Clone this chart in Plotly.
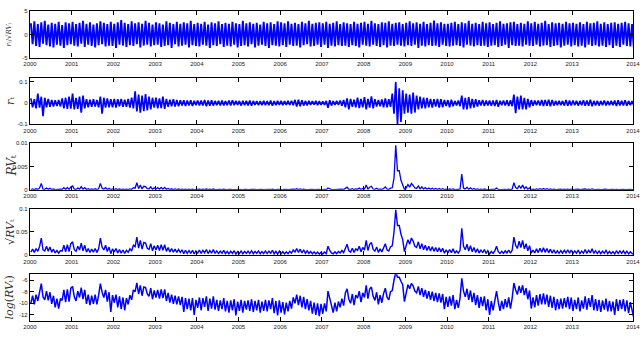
import math
import plotly.graph_objects as go

# ---------------- data (half-month samples, Jan 2000 .. Jun 2014) ----------------
z_ratio = [
    2.4,-2.1,2.8,-2.5,2.2,-2.7,2.6,-2.0,2.9,-2.3,2.1,-2.6,2.5,-2.8,2.3,-2.2,2.7,-2.4,2.0,-2.9,2.6,-2.3,2.4,-2.1,
    2.7,-2.4,2.2,-2.6,2.5,-2.0,2.9,-2.7,2.3,-2.2,2.6,-2.5,2.1,-2.8,2.4,-2.3,2.8,-2.1,2.5,-2.6,2.2,-2.4,2.7,-2.5,
    2.3,-2.9,2.6,-2.2,3.1,-2.4,2.5,-2.7,2.2,-2.3,2.8,-2.5,2.4,-2.1,2.6,-2.8,2.3,-2.4,2.9,-2.2,2.5,-2.6,2.1,-2.3,
    2.6,-2.2,2.4,-2.7,2.1,-2.5,2.8,-2.3,2.5,-2.9,2.2,-2.1,2.7,-2.6,2.3,-2.4,2.6,-2.2,2.4,-2.8,2.9,-2.3,2.2,-2.5,
    2.5,-2.6,2.3,-2.2,2.7,-2.4,2.1,-2.9,2.6,-2.3,2.4,-2.5,2.8,-2.1,2.2,-2.7,2.5,-2.4,2.3,-2.6,2.7,-2.2,2.4,-2.8,
    2.2,-2.5,2.9,-2.3,2.4,-2.6,2.6,-2.1,2.3,-2.8,2.5,-2.4,2.1,-2.2,2.7,-2.5,2.4,-2.9,2.6,-2.3,2.2,-2.4,2.8,-2.6,
    2.6,-2.3,2.4,-2.7,2.8,-2.2,2.3,-2.5,2.5,-2.4,2.2,-2.8,2.7,-2.3,2.4,-2.1,2.9,-2.6,2.3,-2.5,2.5,-2.2,2.6,-2.7,
    2.4,-2.2,2.7,-2.9,2.3,-2.4,2.5,-2.6,2.8,-2.3,2.2,-2.5,2.6,-2.4,2.4,-2.7,2.2,-2.3,2.7,-2.5,2.3,-2.8,2.5,-2.2,
    2.7,-2.4,2.3,-2.6,2.9,-2.2,2.4,-2.5,2.2,-2.7,2.6,-2.3,2.5,-2.8,2.8,-2.4,2.3,-2.5,2.5,-2.2,2.6,-2.4,2.2,-2.6,
    2.5,-2.3,2.8,-2.5,2.4,-2.2,2.6,-2.9,2.3,-2.4,2.7,-2.6,2.2,-2.3,2.5,-2.5,3.0,-2.4,2.4,-2.7,2.6,-2.2,2.3,-2.5,
    2.3,-2.6,2.5,-2.4,2.7,-2.3,2.2,-2.5,2.6,-2.8,2.4,-2.2,2.9,-2.4,2.3,-2.6,2.5,-2.3,2.2,-2.5,2.7,-2.4,2.4,-2.7,
    2.6,-2.4,2.2,-2.3,2.5,-2.7,2.8,-2.5,2.3,-2.2,2.4,-2.9,2.6,-2.3,2.7,-2.5,2.2,-2.4,2.5,-2.6,2.3,-2.2,2.8,-2.4,
    2.4,-2.5,2.7,-2.2,2.3,-2.6,2.5,-2.4,2.9,-2.3,2.2,-2.7,2.6,-2.5,2.4,-2.3,2.5,-2.8,2.3,-2.4,2.7,-2.2,2.4,-2.6,
    2.5,-2.3,2.3,-2.6,2.6,-2.4,2.2,-2.8,2.7,-2.2,2.4,-2.5,2.5,-2.3,2.8,-2.6,2.3,-2.4,2.6,-2.7,2.2,-2.3,2.5,-2.9,
    2.6,-2.4,2.3,-2.7,2.5,-2.2,2.7,-2.5,2.4,-2.6,2.2,-2.8,
]

returns = [
    0.022,-0.02,0.018,-0.025,0.045,-0.022,0.03,-0.062,0.025,-0.02,0.02,-0.018,0.015,-0.016,0.013,-0.014,0.014,-0.016,0.022,-0.025,0.025,-0.028,0.03,-0.026,
    0.045,-0.03,0.025,-0.028,0.03,-0.045,0.035,-0.025,0.018,-0.02,0.016,-0.018,0.018,-0.017,0.015,-0.02,0.03,-0.05,0.025,-0.022,0.022,-0.02,0.018,-0.02,
    0.02,-0.022,0.018,-0.016,0.02,-0.018,0.016,-0.018,0.02,-0.022,0.025,-0.025,0.055,-0.04,0.04,-0.045,0.035,-0.038,0.042,-0.035,0.03,-0.03,0.025,-0.022,
    0.025,-0.025,0.022,-0.024,0.03,-0.028,0.02,-0.018,0.016,-0.015,0.018,-0.016,0.014,-0.015,0.013,-0.012,0.013,-0.014,0.012,-0.012,0.013,-0.014,0.011,-0.01,
    0.012,-0.011,0.012,-0.012,0.014,-0.015,0.012,-0.013,0.013,-0.012,0.01,-0.01,0.011,-0.012,0.012,-0.011,0.009,-0.01,0.012,-0.011,0.013,-0.01,0.01,-0.009,
    0.01,-0.012,0.011,-0.01,0.01,-0.011,0.012,-0.013,0.01,-0.009,0.009,-0.01,0.009,-0.01,0.01,-0.01,0.009,-0.01,0.012,-0.013,0.009,-0.01,0.01,-0.009,
    0.01,-0.01,0.009,-0.009,0.01,-0.009,0.011,-0.01,0.015,-0.017,0.016,-0.015,0.013,-0.012,0.01,-0.011,0.01,-0.009,0.009,-0.008,0.01,-0.01,0.009,-0.009,
    0.008,-0.009,0.01,-0.022,0.013,-0.012,0.009,-0.009,0.01,-0.009,0.012,-0.013,0.015,-0.02,0.022,-0.03,0.02,-0.018,0.016,-0.02,0.025,-0.024,0.02,-0.02,
    0.028,-0.03,0.02,-0.022,0.032,-0.025,0.018,-0.016,0.014,-0.015,0.017,-0.02,0.022,-0.02,0.018,-0.018,0.045,-0.05,0.1,-0.1,0.07,-0.09,0.06,-0.05,
    0.045,-0.045,0.04,-0.05,0.05,-0.045,0.035,-0.03,0.03,-0.025,0.025,-0.025,0.024,-0.02,0.02,-0.022,0.018,-0.017,0.02,-0.022,0.018,-0.02,0.015,-0.014,
    0.014,-0.02,0.016,-0.015,0.01,-0.011,0.012,-0.015,0.035,-0.03,0.025,-0.03,0.028,-0.025,0.02,-0.022,0.018,-0.016,0.013,-0.012,0.015,-0.014,0.012,-0.011,
    0.012,-0.013,0.012,-0.014,0.015,-0.018,0.011,-0.01,0.012,-0.012,0.013,-0.014,0.013,-0.015,0.04,-0.048,0.03,-0.03,0.035,-0.03,0.025,-0.03,0.02,-0.02,
    0.014,-0.013,0.012,-0.01,0.012,-0.012,0.014,-0.014,0.015,-0.013,0.016,-0.015,0.014,-0.012,0.01,-0.01,0.011,-0.01,0.01,-0.012,0.014,-0.013,0.012,-0.012,
    0.012,-0.01,0.011,-0.012,0.01,-0.01,0.013,-0.013,0.012,-0.013,0.016,-0.015,0.01,-0.011,0.011,-0.012,0.01,-0.01,0.012,-0.011,0.009,-0.01,0.01,-0.01,
    0.012,-0.014,0.013,-0.012,0.011,-0.012,0.013,-0.013,0.01,-0.01,0.009,-0.01,
]

log_rv = [
    -10.0,-8.7,-10.2,-8.5,-9.6,-8.0,-6.6,-8.9,-9.4,-7.9,-9.5,-8.1,-10.1,-8.7,-10.7,-9.2,-10.9,-9.2,-9.5,-7.7,-9.8,-7.6,-9.7,-7.4,
    -7.1,-8.9,-9.6,-7.9,-9.0,-7.3,-9.3,-7.7,-10.1,-8.5,-10.3,-8.7,-10.1,-8.5,-10.2,-8.6,-6.6,-8.1,-9.0,-7.7,-9.7,-8.1,-11.5,-8.6,
    -9.9,-8.5,-10.7,-8.8,-11.0,-9.0,-11.2,-9.1,-10.2,-8.6,-9.4,-7.7,-8.0,-6.5,-8.4,-6.9,-8.7,-7.2,-7.3,-8.4,-8.8,-7.4,-9.3,-7.8,
    -9.0,-7.7,-9.2,-7.6,-9.1,-7.6,-9.6,-8.2,-9.9,-8.5,-10.1,-8.7,-10.2,-8.8,-10.3,-8.9,-11.5,-9.1,-11.0,-9.2,-11.2,-9.1,-12.0,-9.4,
    -10.8,-9.0,-11.2,-9.1,-10.6,-8.8,-11.3,-9.2,-10.9,-8.8,-11.1,-9.4,-11.3,-9.5,-11.0,-9.1,-11.4,-9.6,-11.6,-9.5,-11.2,-9.3,-12.1,-9.7,
    -11.3,-9.4,-11.6,-9.6,-11.1,-9.5,-11.3,-9.3,-11.5,-9.6,-11.2,-9.4,-11.6,-9.7,-11.3,-9.4,-11.4,-9.5,-11.0,-9.1,-11.7,-9.6,-12.1,-9.5,
    -11.6,-9.8,-11.9,-9.9,-11.4,-9.6,-10.9,-9.0,-10.0,-8.5,-10.3,-8.7,-10.7,-8.9,-11.0,-9.3,-11.2,-9.6,-11.8,-9.9,-12.0,-10.0,-12.2,-10.1,
    -11.8,-10.0,-11.4,-7.9,-9.2,-10.6,-11.6,-9.9,-11.4,-9.7,-10.7,-9.2,-10.4,-8.2,-7.5,-9.3,-10.0,-8.4,-10.3,-8.6,-9.1,-7.9,-9.8,-8.2,
    -9.0,-6.9,-9.2,-7.5,-7.2,-8.8,-9.5,-8.1,-10.2,-8.6,-9.9,-8.3,-7.4,-9.0,-9.4,-8.0,-7.8,-6.0,-4.65,-5.5,-5.5,-6.2,-6.8,-9.7,
    -7.9,-6.8,-7.5,-6.6,-7.0,-7.9,-8.2,-7.1,-8.6,-7.4,-8.9,-7.7,-9.2,-7.9,-9.4,-8.0,-9.6,-8.2,-9.8,-8.3,-9.9,-8.4,-11.0,-8.9,
    -10.6,-8.8,-10.4,-8.6,-11.0,-9.4,-10.8,-9.1,-5.7,-7.9,-8.9,-7.5,-9.4,-7.8,-9.8,-8.2,-10.3,-8.6,-10.8,-8.9,-10.5,-8.8,-11.2,-9.3,
    -12.0,-9.6,-11.2,-9.4,-7.9,-9.8,-11.3,-9.6,-11.0,-9.3,-10.7,-9.0,-10.9,-9.1,-6.5,-7.7,-8.5,-7.0,-8.2,-6.9,-8.6,-7.4,-9.3,-7.8,
    -10.9,-9.0,-10.7,-8.6,-10.4,-8.4,-10.2,-8.3,-10.2,-8.5,-10.6,-8.7,-10.8,-8.9,-11.2,-9.3,-11.0,-9.2,-10.9,-9.1,-10.7,-8.9,-11.0,-9.0,
    -11.3,-9.4,-11.0,-9.0,-11.4,-9.5,-10.9,-8.8,-11.1,-9.1,-10.6,-8.6,-11.2,-9.3,-11.3,-9.4,-11.5,-9.5,-11.1,-9.2,-11.4,-9.6,-11.4,-9.7,
    -12.0,-9.3,-11.3,-9.4,-11.0,-9.3,-11.4,-9.5,-11.7,-9.8,-11.2,-12.5,
]

year_ticks = [2000, 2001, 2002, 2003, 2004, 2005, 2006, 2007, 2008, 2009, 2010, 2011, 2012, 2013, 2014.46]
year_labels = ["2000", "2001", "2002", "2003", "2004", "2005", "2006", "2007",
               "2008", "2009", "2010", "2011", "2012", "2013", "2014"]

# derived series
rv = [math.exp(v) for v in log_rv]
sqrt_rv = [math.exp(v / 2) for v in log_rv]


def times(series):
    return [2000 + (i + 0.5) / 24 for i in range(len(series))]


panels = [
    dict(y=z_ratio, rng=[-5, 5], tv=[5, 0, -5], tt=["5", "0", "-5"], lw=1.9,
         title="<i>r</i>ₜ/√<i>RV</i>ₜ", tsize=7, tx=9),
    dict(y=returns, rng=[-0.1, 0.12], tv=[0.1, 0, -0.1], tt=["0.1", "0", "-0.1"], lw=1.7,
         title="<i>r</i>ₜ", tsize=11, tx=11),
    dict(y=rv, rng=[0, 0.01], tv=[0.01, 0.005, 0], tt=["0.01", "0.005", "0"], lw=1.3,
         title="<i>RV</i>ₜ", tsize=12, tx=12),
    dict(y=sqrt_rv, rng=[0, 0.1], tv=[0.1, 0.05, 0], tt=["0.1", "0.05", "0"], lw=1.4,
         title="√<i>RV</i>ₜ", tsize=11, tx=11),
    dict(y=log_rv, rng=[-13, -5], tv=[-6, -8, -10, -12], tt=["-6", "-8", "-10", "-12"], lw=1.5,
         title="<i>log</i>(<i>RV</i>ₜ)", tsize=11, tx=9),
]

W, H = 642, 348
L, R = 30, 633
tops = [8.3, 76, 142.7, 209.3, 276]
ph = 47.3

fig = go.Figure()
annotations = []
layout = dict(
    width=W, height=H,
    margin=dict(l=L, r=W - R, t=0, b=0),
    paper_bgcolor="white", plot_bgcolor="white",
    showlegend=False,
    font=dict(family="Liberation Sans, Arial, sans-serif", size=6, color="#222"),
)

for k, p in enumerate(panels):
    idx = "" if k == 0 else str(k + 1)
    fig.add_trace(go.Scatter(
        x=times(p["y"]), y=p["y"], mode="lines",
        line=dict(color="#0000ff", width=p["lw"]),
        xaxis="x" + idx, yaxis="y" + idx, hoverinfo="skip",
    ))
    top = tops[k]
    bot = top + ph
    dom = [1 - bot / H, 1 - top / H]
    axcommon = dict(showline=True, linecolor="black", linewidth=1.4, mirror="ticks",
                    ticks="inside", ticklen=4, tickwidth=1, tickcolor="black",
                    showgrid=False, zeroline=False,
                    tickfont=dict(size=6, color="#222"))
    layout["xaxis" + idx] = dict(
        axcommon, domain=[0, 1], range=[2000, 2014.46], anchor="y" + idx,
        tickmode="array", tickvals=year_ticks, ticktext=year_labels,
    )
    layout["yaxis" + idx] = dict(
        axcommon, domain=dom, range=p["rng"], anchor="x" + idx,
        tickmode="array", tickvals=p["tv"], ticktext=p["tt"],
    )
    annotations.append(dict(
        text=p["title"], xref="paper", yref="paper",
        x=(p["tx"] - L) / (R - L), y=1 - (top + ph / 2) / H,
        xanchor="center", yanchor="middle", textangle=-90, showarrow=False,
        font=dict(family="DejaVu Serif, serif", size=p["tsize"], color="#333"),
    ))

layout["annotations"] = annotations
fig.update_layout(**layout)
fig.write_html("out.html", config={"displayModeBar": False})
